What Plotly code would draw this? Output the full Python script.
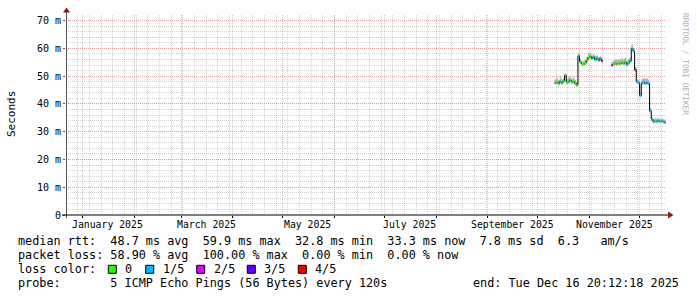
import plotly.graph_objects as go
import pandas as pd

# ---------------- data ----------------
x_start = "2024-12-21 20:12:18"
x_end = "2025-12-16 20:12:18"

days = pd.date_range("2025-10-11", "2025-12-16", freq="D")

median_ms = [
    # Oct 11 - Oct 24
    47.6, 47.9, 47.3, 48.0, 47.5, 48.2, 50.4, 47.7, 48.0, 48.5, 47.8, 48.1, 47.4, 46.7,
    # Oct 25 - Nov 8
    57.3, 55.1, 54.4, 54.3, 54.7, 55.6, 56.7, 57.1, 56.2, 56.9, 55.9, 56.4, 55.7, 56.3, 55.4,
    # Nov 9 - Nov 13 (no data)
    None, None, None, None, None,
    # Nov 14 - Nov 30
    53.9, 54.2, 54.6, 54.3, 54.7, 54.4, 54.9, 54.5, 55.0, 54.1, 54.8, 55.4, 59.9, 59.0, 52.3, 47.9, 47.6,
    # Dec 1 - Dec 16
    43.0, 47.5, 47.8, 47.4, 47.7, 47.3, 37.5, 34.5, 33.6, 33.8, 33.7, 33.9, 33.6, 33.8, 33.5, 33.3,
]

smoke_hi_ms = [
    48.8, 49.5, 48.6, 50.0, 48.9, 49.3, 51.0, 49.0, 49.4, 50.1, 49.0, 49.6, 48.7, 47.8,
    58.4, 56.0, 55.3, 55.4, 55.9, 57.0, 58.4, 58.3, 57.4, 58.0, 57.2, 57.5, 56.9, 57.3, 56.5,
    None, None, None, None, None,
    55.2, 55.6, 56.1, 55.8, 56.2, 55.9, 56.4, 56.0, 56.5, 55.6, 56.3, 56.6, 61.4, 60.0, 53.3, 49.0, 48.7,
    44.0, 48.9, 49.3, 49.0, 49.2, 48.7, 38.6, 35.4, 34.6, 34.8, 34.7, 34.9, 34.6, 34.8, 34.5, 34.2,
]

smoke_lo_ms = [
    47.0, 47.3, 46.7, 47.3, 46.9, 47.6, 49.7, 47.1, 47.3, 47.9, 47.2, 47.5, 46.8, 46.1,
    56.8, 54.5, 53.8, 53.7, 54.1, 55.0, 56.1, 56.5, 55.7, 56.3, 55.3, 55.8, 55.1, 55.7, 54.9,
    None, None, None, None, None,
    53.4, 53.7, 54.1, 53.8, 54.2, 53.9, 54.4, 54.0, 54.5, 53.6, 54.3, 54.9, 59.2, 58.4, 51.7, 47.3, 47.1,
    42.5, 46.9, 47.2, 46.9, 47.1, 46.8, 36.8, 33.9, 33.1, 33.3, 33.2, 33.4, 33.1, 33.3, 33.0, 32.8,
]

loss_level = [
    1, 0, 0, 1, 0, 0, 0, 0, 1, 0, 0, 0, 0, 0,
    1, 0, 0, 0, 0, 0, 0, 0, 0, 1, 0, 1, 1, 1, 4,
    None, None, None, None, None,
    2, 0, 0, 0, 0, 0, 0, 0, 0, 1, 0, 1, 1, 1, 4, 1, 1,
    1, 1, 1, 1, 1, 1, 1, 1, 1, 0, 1, 1, 0, 1, 1, 1,
]

loss_labels = ["0", "1/5", "2/5", "3/5", "4/5"]
loss_colors = ["#26ff00", "#00b8ff", "#dd00ff", "#5e00ff", "#ff0000"]

month_label_dates = ["2025-01-16", "2025-03-16", "2025-05-16", "2025-07-16", "2025-09-16", "2025-11-16"]
month_labels = ["January 2025", "March 2025", "May 2025", "July 2025", "September 2025", "November 2025"]

y_tick_vals = [0, 10, 20, 30, 40, 50, 60, 70]
y_tick_text = ["0", "10 m", "20 m", "30 m", "40 m", "50 m", "60 m", "70 m"]

legend_lines = [
    "median rtt:  48.7 ms avg  59.9 ms max  32.8 ms min  33.3 ms now  7.8 ms sd  6.3   am/s",
    "packet loss: 58.90 % avg  100.00 % max  0.00 % min  0.00 % now",
    "loss color:",
    "probe:       5 ICMP Echo Pings (56 Bytes) every 120s",
]
end_text = "end: Tue Dec 16 20:12:18 2025"

# ---------------- styling ----------------
FONT = "DejaVu Sans Mono"
MAJ = "rgba(225,70,70,0.38)"
MIN = "rgba(140,140,140,0.38)"
ARROW = "#8b1a1a"
DAY_MS = 86400000

L, R, T, B = 66, 31, 15, 82
W, H = 697, 297
PW, PH = W - L - R, H - T - B


def px(x):
    return (x - L) / PW


def py(y):
    return (H - B - y) / PH


fig = go.Figure()

# dummy trace so the weekly-grid helper axis is drawn
fig.add_trace(go.Scatter(x=[], y=[], xaxis="x3", yaxis="y", hoverinfo="skip"))

# smoke (filled rectangles per day)
sx, sy = [], []
for d, lo, hi in zip(days, smoke_lo_ms, smoke_hi_ms):
    if lo is None or hi is None:
        continue
    d1 = d + pd.Timedelta(days=1)
    sx += [d, d1, d1, d, d, None]
    sy += [lo, lo, hi, hi, lo, None]
fig.add_trace(go.Scatter(x=sx, y=sy, mode="lines", fill="toself", fillcolor="#b4b4b4",
                         line=dict(width=0, color="#b4b4b4"), hoverinfo="skip"))

# median line (black step)
fig.add_trace(go.Scatter(x=days, y=median_ms, mode="lines", line=dict(color="#000000", width=1, shape="hv"),
                         connectgaps=False, hoverinfo="skip"))

# coloured median segments by loss
for lvl, col in enumerate(loss_colors):
    xs, ys = [], []
    for d, v, l in zip(days, median_ms, loss_level):
        if v is None or l != lvl:
            continue
        xs += [d, d + pd.Timedelta(days=1), None]
        ys += [v, v, None]
    if xs:
        fig.add_trace(go.Scatter(x=xs, y=ys, mode="lines", line=dict(color=col, width=2),
                                 connectgaps=False, hoverinfo="skip"))

shapes = []
# y axis line + arrow
shapes.append(dict(type="line", xref="paper", yref="paper", x0=px(66.5), x1=px(66.5), y0=py(218), y1=py(11),
                   line=dict(color="#555555", width=1)))
shapes.append(dict(type="path", xref="paper", yref="paper",
                   path=f"M {px(63)},{py(12.5)} L {px(70)},{py(12.5)} L {px(66.5)},{py(7.5)} Z",
                   fillcolor=ARROW, line=dict(color=ARROW, width=0)))
# x axis line + arrow
shapes.append(dict(type="line", xref="paper", yref="paper", x0=px(62), x1=px(669), y0=py(215), y1=py(215),
                   line=dict(color="#000000", width=1)))
shapes.append(dict(type="path", xref="paper", yref="paper",
                   path=f"M {px(668)},{py(211.5)} L {px(668)},{py(218.5)} L {px(673.5)},{py(215)} Z",
                   fillcolor=ARROW, line=dict(color=ARROW, width=0)))

annotations = []
# month labels (x in data coordinates)
for dt, lab in zip(month_label_dates, month_labels):
    annotations.append(dict(text=lab, x=dt, y=py(224.5), xref="x", yref="paper",
                            xanchor="center", yanchor="middle", showarrow=False,
                            font=dict(family=FONT, size=9.8, color="#000000")))

line_y = [241.3, 255.3, 269.3, 283.3]
for txt, yy in zip(legend_lines, line_y):
    annotations.append(dict(text=txt.replace(" ", "\u00a0"), x=px(16), y=py(yy), xref="paper", yref="paper",
                            xanchor="left", yanchor="middle", showarrow=False,
                            font=dict(family=FONT, size=11.8, color="#000000")))
annotations.append(dict(text=end_text.replace(" ", "\u00a0"), x=px(680.5), y=py(283.3), xref="paper", yref="paper",
                        xanchor="right", yanchor="middle", showarrow=False,
                        font=dict(family=FONT, size=11.8, color="#000000")))

box_x = [108.3, 145.7, 196.7, 247.3, 298.3]
for bx, lab, col in zip(box_x, loss_labels, loss_colors):
    shapes.append(dict(type="rect", xref="paper", yref="paper", x0=px(bx), x1=px(bx + 8),
                       y0=py(273.3), y1=py(265.3), fillcolor=col, line=dict(color="#000000", width=1)))
    annotations.append(dict(text=lab, x=px(bx + 15), y=py(269.3), xref="paper", yref="paper",
                            xanchor="left", yanchor="middle", showarrow=False,
                            font=dict(family=FONT, size=11.8, color="#000000")))

annotations.append(dict(text="Seconds", x=px(11), y=py(114), xref="paper", yref="paper", textangle=-90,
                        xanchor="center", yanchor="middle", showarrow=False,
                        font=dict(family=FONT, size=11, color="#000000")))
annotations.append(dict(text="RRDTOOL / TOBI OETIKER", x=px(686), y=py(64), xref="paper", yref="paper",
                        textangle=90, xanchor="center", yanchor="middle", showarrow=False,
                        font=dict(family=FONT, size=7.7, color="#aaaaaa")))

fig.update_layout(
    width=W, height=H,
    margin=dict(l=L, r=R, t=T, b=B, pad=0),
    paper_bgcolor="#ffffff", plot_bgcolor="#ffffff",
    showlegend=False, hovermode=False,
    font=dict(family=FONT, size=10, color="#000000"),
    xaxis3=dict(type="date", range=[x_start, x_end], showgrid=True, gridcolor=MIN, griddash="1px,1px",
                gridwidth=1, tickmode="linear", tick0="2024-12-29", dtick=7 * DAY_MS, showticklabels=False,
                ticks="", showline=False, zeroline=False, anchor="y", side="bottom"),
    xaxis=dict(type="date", range=[x_start, x_end], showgrid=True, gridcolor=MAJ, griddash="1px,1px",
               gridwidth=1, tickmode="linear", tick0="2025-01-01", dtick="M1", showticklabels=False,
               ticks="outside", ticklen=2, tickcolor="#000000", showline=False, zeroline=False,
               overlaying="x3", anchor="y"),
    yaxis=dict(range=[0, 72], tickmode="array", tickvals=y_tick_vals, ticktext=y_tick_text, showgrid=True,
               gridcolor=MAJ, griddash="1px,1px", gridwidth=1, zeroline=False, showline=False,
               ticks="outside", ticklen=2, tickcolor="#555555",
               tickfont=dict(family=FONT, size=10, color="#000000"),
               minor=dict(tickmode="linear", tick0=0, dtick=2, showgrid=True, gridcolor=MIN,
                          griddash="1px,1px", gridwidth=1, ticks="")),
    shapes=shapes, annotations=annotations,
)

fig.write_html("out.html")
